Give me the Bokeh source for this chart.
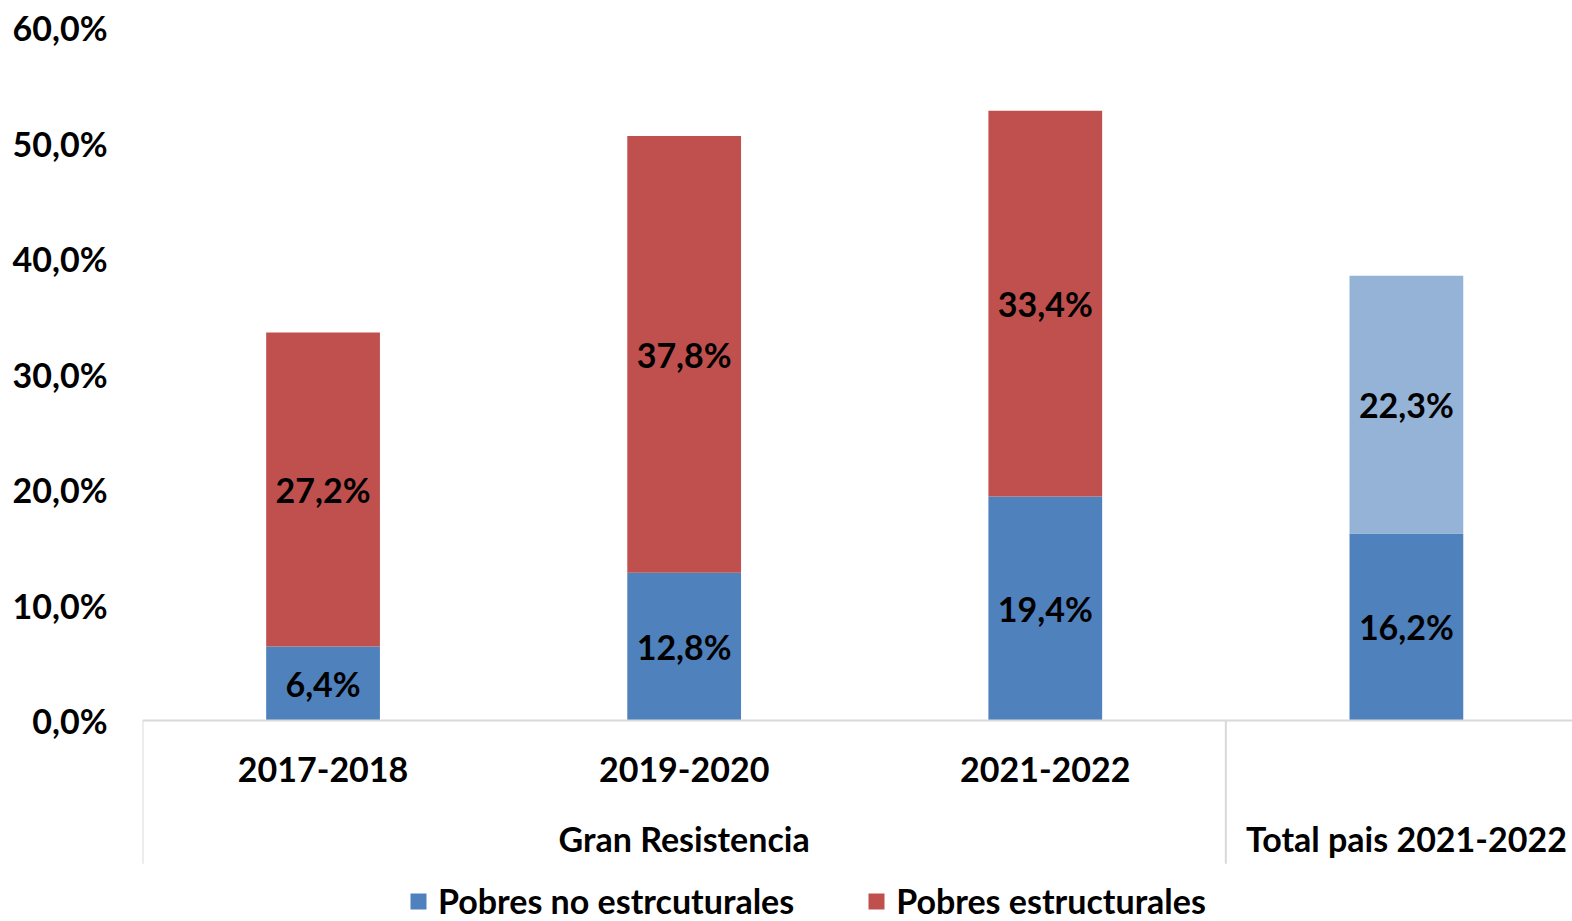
from bokeh.plotting import figure
from bokeh.models import ColumnDataSource, FixedTicker, Range1d, Legend, LegendItem
from bokeh.core.properties import value
from bokeh.embed import file_html
from bokeh.resources import INLINE
import numpy as np

# ---------------- data ----------------
categories = ["2017-2018", "2019-2020", "2021-2022", ""]
groups = ["Gran Resistencia", "Gran Resistencia", "Gran Resistencia", "Total pais 2021-2022"]
no_estructurales = [6.4, 12.8, 19.4, 16.2]
estructurales = [27.2, 37.8, 33.4, 22.3]
top_colors = ["#c0504d", "#c0504d", "#c0504d", "#95b3d7"]
series_names = ["Pobres no estrcuturales", "Pobres estructurales"]
y_ticks = [0, 10, 20, 30, 40, 50, 60]

FONT = "Lato"
FS = "34px"
BLUE = "#4f81bd"
GRID = "#d9d9d9"


def pct(v):
    return f"{v:.1f}%".replace(".", ",")


n = len(categories)
xs = np.arange(n) + 0.5
a = np.array(no_estructurales)
b = np.array(estructurales)

src = ColumnDataSource(dict(
    x=xs, a=a, b=b, top=a + b, mid_a=a / 2, mid_b=a + b / 2,
    la=[pct(v) for v in a], lb=[pct(v) for v in b], color=top_colors,
))

# the original chart is cropped slightly at the right edge
p = figure(width=1572, height=921, output_backend="svg", toolbar_location=None,
           x_range=Range1d(0, n - 0.04), y_range=Range1d(-17.4, 61.04),
           min_border_left=142, min_border_right=0, min_border_top=15, min_border_bottom=0)
p.outline_line_color = None
p.xgrid.visible = False
p.ygrid.visible = False
p.xaxis.visible = False

ya = p.yaxis[0]
ya.ticker = FixedTicker(ticks=y_ticks)
ya.major_label_overrides = {t: pct(t) for t in y_ticks}
ya.axis_line_color = None
ya.major_tick_line_color = None
ya.minor_tick_line_color = None
ya.major_label_standoff = 29
ya.major_label_text_font = FONT
ya.major_label_text_font_style = "bold"
ya.major_label_text_font_size = FS
ya.major_label_text_color = "black"

W = 0.315
r1 = p.vbar(x="x", bottom=0, top="a", width=W, fill_color=BLUE, line_color=None, source=src)
r2 = p.vbar(x="x", bottom="a", top="top", width=W, fill_color="color", line_color=None, source=src)

txt = dict(text_font=value(FONT), text_font_style="bold", text_font_size=FS,
           text_align="center", text_baseline="middle", text_color="black")
p.text(x="x", y="mid_a", text="la", source=src, **txt)
p.text(x="x", y="mid_b", text="lb", source=src, **txt)

# x axis line and category labels
p.segment(x0=[0], y0=[0], x1=[n], y1=[0], line_color=GRID, line_width=2)
p.text(x=xs, y=[-4.2] * n, text=categories, **txt)

# groups
uniq = []
for g in groups:
    if g not in uniq:
        uniq.append(g)
gx, starts = [], []
for g in uniq:
    idx = [i for i, gg in enumerate(groups) if gg == g]
    gx.append((min(idx) + max(idx) + 1) / 2)
    starts.append(min(idx))
p.text(x=gx, y=[-10.2] * len(uniq), text=uniq, **txt)
p.segment(x0=starts, y0=[0] * len(starts), x1=starts, y1=[-12.4] * len(starts),
          line_color=GRID, line_width=2)

legend = Legend(items=[LegendItem(label=series_names[0], renderers=[r1], index=0),
                       LegendItem(label=series_names[1], renderers=[r2], index=0)],
                location=(266, 0), orientation="horizontal")
legend.label_text_font = FONT
legend.label_text_font_style = "bold"
legend.label_text_font_size = FS
legend.label_text_color = "black"
legend.glyph_width = 20
legend.glyph_height = 20
legend.label_standoff = 10
legend.spacing = 72
legend.padding = 0
legend.margin = 0
legend.border_line_color = None
legend.background_fill_alpha = 0
p.add_layout(legend, "center")

open("out.html", "w").write(file_html(p, INLINE))
